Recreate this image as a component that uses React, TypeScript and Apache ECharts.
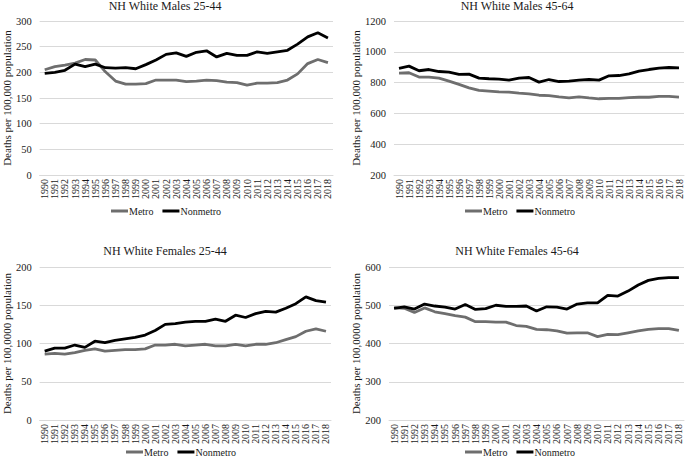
import React, { useEffect, useRef } from "react";
import * as echarts from "echarts";

const years = [
  "1990","1991","1992","1993","1994","1995","1996","1997","1998","1999",
  "2000","2001","2002","2003","2004","2005","2006","2007","2008","2009",
  "2010","2011","2012","2013","2014","2015","2016","2017","2018",
];

const males2544Metro = [205,211,214,218,225,224,201,183,177,177,178,185,185,185,182,183,185,184,181,180,175,179,179,180,185,197,217,225,219];
const males2544Nonmetro = [198,200,204,216,211,216,209,208,209,207,215,224,235,238,231,239,242,230,237,233,233,240,237,240,243,255,269,277,267];

const males4564Metro = [862,864,836,836,829,810,788,766,749,745,740,738,731,727,718,716,708,701,708,701,695,697,697,703,705,705,710,710,706];
const males4564Nonmetro = [893,907,877,885,872,868,853,855,829,825,823,816,829,833,803,820,807,809,816,820,816,844,846,857,875,885,894,898,896];

const females2544Metro = [86,87,86,88,91,93,90,91,92,92,93,98,98,99,97,98,99,97,97,99,97,99,99,101,105,109,116,119,116];
const females2544Nonmetro = [90,94,94,98,95,103,101,104,106,108,111,117,125,126,128,129,129,132,129,137,134,139,142,141,146,152,161,156,154];

const females4564Metro = [494,492,481,493,483,478,473,469,457,457,456,456,447,445,437,436,433,427,428,428,418,424,423,428,433,437,439,439,434];
const females4564Nonmetro = [492,496,490,503,498,495,490,502,489,491,500,497,497,498,485,496,495,490,503,506,506,526,524,537,553,565,570,572,572];

const titles = ["NH White Males 25-44", "NH White Males 45-64", "NH White Females 25-44", "NH White Females 45-64"];
const yNames = [
  "Deaths per 100,000 population",
  "Deaths per 100,000 population",
  "Deaths per 100,0000 population",
  "Deaths per 100,0000 population",
];
const yRanges = [
  { min: 0, max: 300, interval: 50 },
  { min: 200, max: 1200, interval: 200 },
  { min: 0, max: 200, interval: 50 },
  { min: 200, max: 600, interval: 100 },
];
const panelData = [
  [males2544Metro, males2544Nonmetro],
  [males4564Metro, males4564Nonmetro],
  [females2544Metro, females2544Nonmetro],
  [females4564Metro, females4564Nonmetro],
];

const FONT = "Liberation Serif";
const TEXT = "#1a1a1a";
const GRIDC = "#d9d9d9";
const METRO = "#6e6e6e";
const NONMETRO = "#000000";

export default function App() {
  const ref = useRef<HTMLDivElement>(null);
  useEffect(() => {
    if (!ref.current) return;
    const chart = echarts.init(ref.current, null, { renderer: "svg" });

    const grids = [
      { left: 35, right: 352, top: 21, bottom: 287 },
      { left: 394, right: 1, top: 21, bottom: 287 },
      { left: 35, right: 354, top: 267, bottom: 42 },
      { left: 389, right: 1, top: 267, bottom: 42 },
    ];
    const titlePos = [
      { left: 165, top: 0 },
      { left: 517, top: 0 },
      { left: 165, top: 245 },
      { left: 517, top: 245 },
    ];
    const legendPos = [
      { left: 111, top: 206 },
      { left: 465, top: 206 },
      { left: 126, top: 447 },
      { left: 465, top: 447 },
    ];
    const nameGaps = [24, 26, 24, 21];

    const option: any = {
      animation: false,
      backgroundColor: "#fff",
      textStyle: { fontFamily: FONT },
      title: titles.map((t, i) => ({
        text: t,
        left: titlePos[i].left,
        top: titlePos[i].top,
        padding: 0,
        textAlign: "center",
        textStyle: { fontFamily: FONT, fontSize: 12, fontWeight: "normal", color: TEXT },
      })),
      legend: legendPos.map((p) => ({
        left: p.left,
        top: p.top,
        padding: 0,
        data: ["Metro", "Nonmetro"],
        icon: "rect",
        itemWidth: 17,
        itemHeight: 3,
        itemGap: 9,
        textStyle: { fontFamily: FONT, fontSize: 10, color: TEXT, padding: [0, 0, 0, -4] },
      })),
      grid: grids.map((g) => ({ ...g, containLabel: false })),
      xAxis: grids.map((_, i) => ({
        type: "category",
        gridIndex: i,
        data: years,
        boundaryGap: true,
        axisLine: { show: true, lineStyle: { color: GRIDC, width: 1 } },
        axisTick: { show: false },
        axisLabel: {
          interval: 0,
          rotate: 90,
          fontFamily: FONT,
          fontSize: 10,
          color: TEXT,
          margin: 4,
        },
      })),
      yAxis: grids.map((_, i) => ({
        type: "value",
        gridIndex: i,
        min: yRanges[i].min,
        max: yRanges[i].max,
        interval: yRanges[i].interval,
        name: yNames[i],
        nameLocation: "middle",
        nameGap: nameGaps[i],
        nameTextStyle: { fontFamily: FONT, fontSize: 11, color: TEXT },
        axisLine: { show: false },
        axisTick: { show: false },
        axisLabel: {
          fontFamily: FONT,
          fontSize: 10.5,
          color: TEXT,
          margin: 8,
          formatter: (v: number) => String(v),
        },
        splitLine: { show: true, lineStyle: { color: GRIDC, width: 1 } },
      })),
      series: panelData.flatMap((pair, i) => [
        {
          name: "Metro",
          type: "line",
          xAxisIndex: i,
          yAxisIndex: i,
          data: pair[0],
          symbol: "none",
          lineStyle: { color: METRO, width: 2.8 },
          itemStyle: { color: METRO },
        },
        {
          name: "Nonmetro",
          type: "line",
          xAxisIndex: i,
          yAxisIndex: i,
          data: pair[1],
          symbol: "none",
          lineStyle: { color: NONMETRO, width: 2.8 },
          itemStyle: { color: NONMETRO },
        },
      ]),
    };
    chart.setOption(option);
    return () => chart.dispose();
  }, []);

  return (
    <div
      ref={ref}
      style={{ position: "fixed", left: 0, top: 0, width: 685, height: 462, background: "#fff" }}
    />
  );
}
